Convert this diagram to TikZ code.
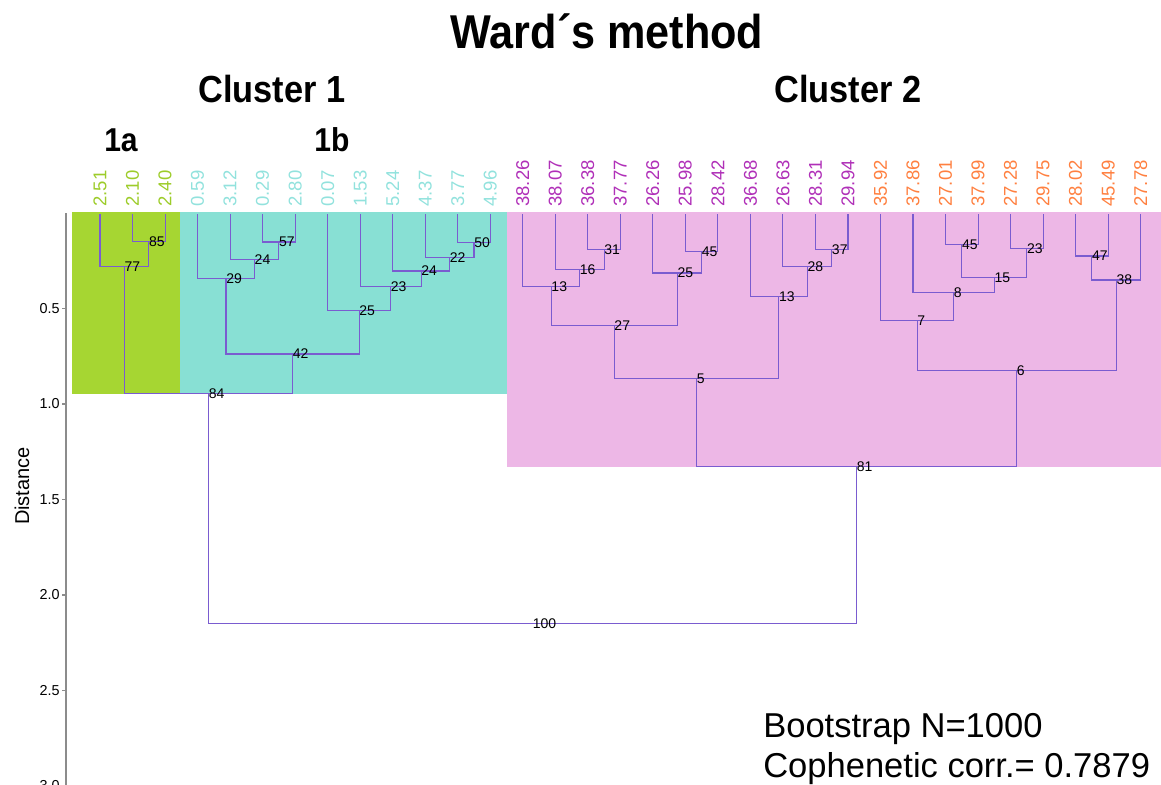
\documentclass[tikz,border=0pt]{standalone}
\usepackage{fontspec}
\setmainfont{Liberation Sans}
\usetikzlibrary{calc}

\definecolor{grnbg}{RGB}{166,214,50}
\definecolor{tealbg}{RGB}{136,224,212}
\definecolor{pinkbg}{RGB}{237,183,230}
\definecolor{grntx}{RGB}{157,204,42}
\definecolor{tealtx}{RGB}{146,226,221}
\definecolor{magtx}{RGB}{176,48,184}
\definecolor{orgtx}{RGB}{255,128,64}
\definecolor{branchc}{RGB}{122,92,208}

% clade{name}{left}{right}{height}{bootstrap}
\newcommand\clade[5]{%
  \coordinate (#1m) at ($(#2)!0.5!(#3)$);
  \coordinate (#1) at (#1m |- 0,#4);
  \draw[branch] (#2) |- (#1) -| (#3);
  \node[boot] (#1t) at (#1) {#5};}

\begin{document}
\begin{tikzpicture}[x=0.75pt,y=-0.75pt,
  branch/.style={draw=branchc,line width=0.8pt},
  boot/.style={anchor=west,inner sep=0pt,font=\fontsize{10.5}{12}\selectfont},
  leaflab/.style={rotate=90,anchor=west,inner sep=0pt,font=\fontsize{13.9}{16}\selectfont},
  head/.style={font=\fontsize{#1}{#1}\selectfont\bfseries,anchor=base,inner sep=0pt,xscale=0.91,transform shape},
  tick/.style={anchor=east,inner sep=0pt,font=\fontsize{10.8}{12}\selectfont}]
\useasboundingbox (0,0) rectangle (1161,785);

% coloured groups
\fill[grnbg] (72,212) rectangle (180,393.5);
\fill[tealbg] (180,212) rectangle (507,393.5);
\fill[pinkbg] (507,212) rectangle (1161,466.7);

% distance axis
\draw[gray!90,line width=1.3pt] (66,213) -- (66,790);
\foreach \d in {0.5,1.0,1.5,2.0,2.5,3.0}{
  \draw[gray!90,line width=0.8pt] (62,{213+191*\d}) -- (66,{213+191*\d});
  \node[tick] (tk\d) at (60,{213+191*\d}) {\d};}
\node[rotate=90,font=\fontsize{15}{17}\selectfont] (dist) at (22,486) {Distance};

% leaves
\foreach \v [count=\i from 0] in {2.51,2.10,2.40}{
  \node[leaflab,text=grntx] (t\i) at ({100+32.52*\i},207) {\v};
  \coordinate (l\i) at ({100+32.52*\i},214);}
\foreach \v [count=\i from 3] in {0.59,3.12,0.29,2.80,0.07,1.53,5.24,4.37,3.77,4.96}{
  \node[leaflab,text=tealtx] (t\i) at ({100+32.52*\i},207) {\v};
  \coordinate (l\i) at ({100+32.52*\i},214);}
\foreach \v [count=\i from 13] in {38.26,38.07,36.38,37.77,26.26,25.98,28.42,36.68,26.63,28.31,29.94}{
  \node[leaflab,text=magtx] (t\i) at ({100+32.52*\i},207) {\v};
  \coordinate (l\i) at ({100+32.52*\i},214);}
\foreach \v [count=\i from 24] in {35.92,37.86,27.01,37.99,27.28,29.75,28.02,45.49,27.78}{
  \node[leaflab,text=orgtx] (t\i) at ({100+32.52*\i},207) {\v};
  \coordinate (l\i) at ({100+32.52*\i},214);}

% cluster 1
\clade{a1}{l1}{l2}{241.3}{85}
\clade{a2}{l0}{a1}{266.7}{77}
\clade{b1}{l5}{l6}{242}{57}
\clade{b2}{l4}{b1}{259.3}{24}
\clade{b3}{l3}{b2}{278.3}{29}
\clade{b4}{l11}{l12}{242.3}{50}
\clade{b5}{l10}{b4}{257.7}{22}
\clade{b6}{l9}{b5}{271}{24}
\clade{b7}{l8}{b6}{286.7}{23}
\clade{b8}{l7}{b7}{310.3}{25}
\clade{b9}{b3}{b8}{354}{42}
\clade{c1}{a2}{b9}{393.3}{84}
% cluster 2
\clade{p1}{l15}{l16}{249.3}{31}
\clade{p2}{l14}{p1}{269.3}{16}
\clade{p3}{l13}{p2}{286.7}{13}
\clade{p4}{l18}{l19}{251.3}{45}
\clade{p5}{l17}{p4}{273}{25}
\clade{p6}{p3}{p5}{325.7}{27}
\clade{p7}{l22}{l23}{249.7}{37}
\clade{p8}{l21}{p7}{266.3}{28}
\clade{p9}{l20}{p8}{296.7}{13}
\clade{p10}{p6}{p9}{378.3}{5}
\clade{o1}{l26}{l27}{244.3}{45}
\clade{o2}{l28}{l29}{248.7}{23}
\clade{o3}{o1}{o2}{277.3}{15}
\clade{o4}{l25}{o3}{292.7}{8}
\clade{o5}{l24}{o4}{320.7}{7}
\clade{o6}{l30}{l31}{256}{47}
\clade{o7}{o6}{l32}{280}{38}
\clade{o8}{o5}{o7}{370.3}{6}
\clade{c2}{p10}{o8}{466.7}{81}
\clade{root}{c1}{c2}{623.3}{100}

% headings
\node[head=35.6] (title) at (607,48) {Ward´s method};
\node[head=28.3] (cl1) at (272,102) {Cluster 1};
\node[head=28.3] (cl2) at (848,102) {Cluster 2};
\node[head=24.8] (sub1a) at (121,151) {1a};
\node[head=24.8] (sub1b) at (332,151) {1b};

\node[anchor=base west,inner sep=0pt,font=\fontsize{25.9}{30}\selectfont] (boot) at (763,737) {Bootstrap N=1000};
\node[anchor=base west,inner sep=0pt,font=\fontsize{25.9}{30}\selectfont] (coph) at (763,777) {Cophenetic corr.= 0.7879};
\end{tikzpicture}
\end{document}
